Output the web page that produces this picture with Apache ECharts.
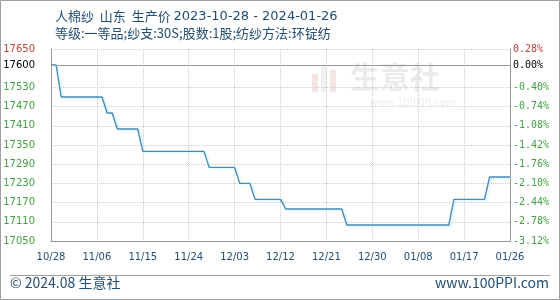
<!DOCTYPE html>
<html><head><meta charset="utf-8">
<script src="https://cdn.jsdelivr.net/npm/echarts@6/dist/echarts.min.js"></script>
<style>html,body{margin:0;padding:0;background:#fff}#c{width:560px;height:300px}</style>
</head><body><div id="c"></div>
<script>
const titleParts = ['人棉纱', '山东', '生产价', '2023-10-28 - 2024-01-26'];
const subText = '等级:一等品;纱支:30S;股数:1股;纺纱方法:环锭纺';
const dates = [
'10/28','10/29','10/30','10/31',
'11/01','11/02','11/03','11/04','11/05','11/06','11/07','11/08','11/09','11/10',
'11/11','11/12','11/13','11/14','11/15','11/16','11/17','11/18','11/19','11/20',
'11/21','11/22','11/23','11/24','11/25','11/26','11/27','11/28','11/29','11/30',
'12/01','12/02','12/03','12/04','12/05','12/06','12/07','12/08','12/09','12/10',
'12/11','12/12','12/13','12/14','12/15','12/16','12/17','12/18','12/19','12/20',
'12/21','12/22','12/23','12/24','12/25','12/26','12/27','12/28','12/29','12/30','12/31',
'01/01','01/02','01/03','01/04','01/05','01/06','01/07','01/08','01/09','01/10',
'01/11','01/12','01/13','01/14','01/15','01/16','01/17','01/18','01/19','01/20',
'01/21','01/22','01/23','01/24','01/25','01/26'];
const prices = [
17600,17600,
17500,17500,17500,17500,17500,17500,17500,17500,17500,
17450,17450,
17400,17400,17400,17400,17400,
17330,17330,17330,17330,17330,17330,17330,17330,17330,17330,17330,17330,17330,
17280,17280,17280,17280,17280,17280,
17230,17230,17230,
17180,17180,17180,17180,17180,17180,
17150,17150,17150,17150,17150,17150,17150,17150,17150,17150,17150,17150,
17100,17100,17100,17100,17100,17100,17100,17100,17100,17100,17100,17100,17100,17100,17100,17100,17100,17100,17100,17100,17100,
17180,17180,17180,17180,17180,17180,17180,
17250,17250,17250,17250,17250];
const baseValue = 17600;
const leftTickValues = [17050,17110,17170,17230,17290,17350,17410,17470,17530,17600,17650];
const leftTickLabels = ['17050','17110','17170','17230','17290','17350','17410','17470','17530','17600','17650'];
const rightTickLabels = ['-3.12%','-2.78%','-2.44%','-2.10%','-1.76%','-1.42%','-1.08%','-0.74%','-0.40%','0.00%','0.28%'];

function styleFor(v){ return v > baseValue ? 'r' : (v === baseValue ? 'b' : 'g'); }
const rich = {
  r:{color:'#c8403c', fontFamily:'DejaVu Sans', fontSize:10},
  b:{color:'#000000', fontFamily:'DejaVu Sans', fontSize:10},
  g:{color:'#45a045', fontFamily:'DejaVu Sans', fontSize:10}
};
const richMono = {
  r:{color:'#c8403c', fontFamily:'DejaVu Sans Mono', fontSize:10},
  b:{color:'#000000', fontFamily:'DejaVu Sans Mono', fontSize:10},
  g:{color:'#45a045', fontFamily:'DejaVu Sans Mono', fontSize:10}
};
const titleColor = '#234e74';

const chart = echarts.init(document.getElementById('c'), null, {renderer:'canvas'});
chart.setOption({
  animation:false,
  backgroundColor:'#fff',
  title:{
    text:'{c|' + titleParts[0] + '}{s|  }{c|' + titleParts[1] + '}{s|  }{c|' + titleParts[2] + '}{s| }{d|' + titleParts[3] + '}',
    subtext:subText, left:50, top:5, itemGap:4,
    textStyle:{color:titleColor, fontSize:13, fontWeight:'normal', fontFamily:'Noto Sans CJK SC',
      rich:{
        c:{color:titleColor, fontSize:13, fontFamily:'Noto Sans CJK SC'},
        s:{color:titleColor, fontSize:13, fontFamily:'Noto Sans CJK SC'},
        d:{color:titleColor, fontSize:13, fontFamily:'DejaVu Sans'}
      }},
    subtextStyle:{color:titleColor, fontSize:13, fontFamily:'Noto Sans CJK SC'}
  },
  grid:{left:51, right:50, top:49, bottom:59, containLabel:false},
  xAxis:{
    type:'category', data:dates, boundaryGap:false,
    axisLine:{show:true, lineStyle:{color:'#999', width:1}},
    axisTick:{show:false},
    axisLabel:{interval:8, color:titleColor, fontFamily:'DejaVu Sans', fontSize:10, margin:11},
    splitLine:{show:true, interval:8, lineStyle:{color:'#cccccc', type:'dotted'}}
  },
  yAxis:[{
    type:'value', min:17050, max:17650, position:'left',
    axisLine:{show:true, lineStyle:{color:'#999'}},
    axisTick:{show:false, customValues:leftTickValues},
    axisLabel:{customValues:leftTickValues, margin:16, rich:rich,
      formatter:function(v){ const i = leftTickValues.indexOf(v); return '{' + styleFor(v) + '|' + leftTickLabels[i] + '}'; }},
    splitLine:{show:true, lineStyle:{color:'#cccccc', type:'dotted'}}
  },{
    type:'value', min:17050, max:17650, position:'right',
    axisLine:{show:true, lineStyle:{color:'#999'}},
    axisTick:{show:false, customValues:leftTickValues},
    axisLabel:{customValues:leftTickValues, margin:3, align:'left', rich:richMono,
      formatter:function(v){ const i = leftTickValues.indexOf(v); return '{' + styleFor(v) + '|' + rightTickLabels[i] + '}'; }},
    splitLine:{show:false}
  }],
  series:[{
    type:'line', data:prices, yAxisIndex:0, symbol:'none', smooth:false,
    lineStyle:{color:'#4a8bb4', width:1.4, shadowColor:'rgba(170,230,255,0.6)', shadowBlur:2, shadowOffsetX:2, shadowOffsetY:1},
    markLine:{silent:true, symbol:'none', label:{show:false},
      lineStyle:{color:'#999', type:'solid', width:1},
      data:[{yAxis:baseValue}]}
  }],
  graphic:[
    {type:'rect', shape:{x:0.5,y:0.5,width:559,height:299}, style:{fill:'none', stroke:'#a0a0a0', lineWidth:1}, z:-1},
    {type:'line', shape:{x1:10,y1:275.5,x2:550,y2:275.5}, style:{stroke:'#a0a0a0', lineWidth:1}},
    {type:'text', left:10, top:276, style:{text:'© 2024.08 生意社', fill:titleColor, font:'14px "Noto Sans CJK SC"'}},
    {type:'text', right:11, top:276, style:{text:'www.100PPI.com', fill:titleColor, font:'14px "Noto Sans CJK SC"'}},
    {type:'group', left:312, top:62, z:-1, children:[
      {type:'rect', shape:{x:4,y:14,width:6,height:18}, style:{fill:'#f5e4e4'}},
      {type:'rect', shape:{x:13,y:6,width:6,height:26}, style:{fill:'#f0f0f0'}},
      {type:'rect', shape:{x:22,y:10,width:6,height:22}, style:{fill:'#f5e4e4'}},
      {type:'text', x:42, y:2, style:{text:'生意社', fill:'#ebebeb', font:'bold 30px "Noto Sans CJK SC"'}},
      {type:'text', x:62, y:38, style:{text:'www.100PPI.com', fill:'#efefef', font:'10px "DejaVu Sans"'}}
    ]}
  ]
});
</script></body></html>
